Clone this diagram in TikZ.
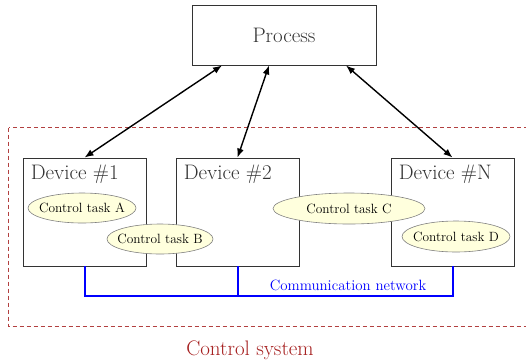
\documentclass[tikz,border=0pt]{standalone}
\usetikzlibrary{shapes.geometric,arrows.meta,positioning}

\definecolor{taskfill}{RGB}{255,255,221}
\definecolor{sysred}{RGB}{165,30,30}

\tikzstyle{box}=[draw=black!80,line width=0.9pt,rectangle,inner sep=0pt]
\tikzstyle{boxtitle}=[font=\fontsize{21}{25}\selectfont,text=black!80,inner xsep=8pt,inner ysep=7pt]
\tikzstyle{task}=[draw=black!50,line width=0.6pt,fill=taskfill,ellipse,inner sep=0pt,font=\fontsize{13.4}{16}\selectfont]
\tikzstyle{link}=[draw,line width=1.4pt,{Latex[length=9pt,width=7pt]}-{Latex[length=9pt,width=7pt]}]
\tikzstyle{net}=[draw=blue,line width=2pt]
\newcommand{\devw}{123pt}
\newcommand{\devh}{108pt}
\newcommand{\tasklbl}[1]{\makebox[0pt]{Control task #1}}

\begin{document}
\begin{tikzpicture}[x=1pt, y=-1pt]
    \useasboundingbox (0,0) rectangle (526,362);
    % First the control system frame
    \draw[draw=sysred!85, line width=1pt, dash pattern=on 4pt off 3pt] (8.5,127.5) rectangle (545,326.5);
    \node[text=sysred, font=\fontsize{21}{25}\selectfont] (sys) at (250,350) {Control system};
    % Process and devices
    \node[box, minimum width=184pt, minimum height=60pt, font=\fontsize{21}{25}\selectfont, text=black!80] (process) at (284,35) {Process};
    \foreach \pos/\name/\title in {{(84.5,212)/dev1/1}, {(237.5,212)/dev2/2}, {(452.5,212)/devN/N}}
    {
        \node[box, minimum width=\devw, minimum height=\devh] (\name) at \pos {};
        \node[boxtitle, anchor=north west] (\name title) at (\name.north west) {Device \#\title};
    }
    % Links between process and devices
    \foreach \off/\dest in {-62/dev1, -15/dev2, 62/devN}
        \path[link] ([xshift=\off pt]process.south) -- (\dest.north);
    % Communication network
    \path[net] (dev1.south) -- ++(0,30) -| (devN.south);
    \path[net] (dev2.south) -- ++(0,30);
    \node[text=blue, font=\fontsize{14.9}{18}\selectfont] (netlbl) at (348,285) {Communication network};
    % Control tasks
    \foreach \pos/\name/\w/\h/\letter in {{(82,208)/taskA/108/30/A}, {(160,239)/taskB/106/30/B}, {(349,208.5)/taskC/152/31/C}, {(456,236.5)/taskD/108/31/D}}
        \node[task, minimum width=\w pt, minimum height=\h pt] (\name) at \pos {\tasklbl{\letter}};
\end{tikzpicture}
\end{document}
